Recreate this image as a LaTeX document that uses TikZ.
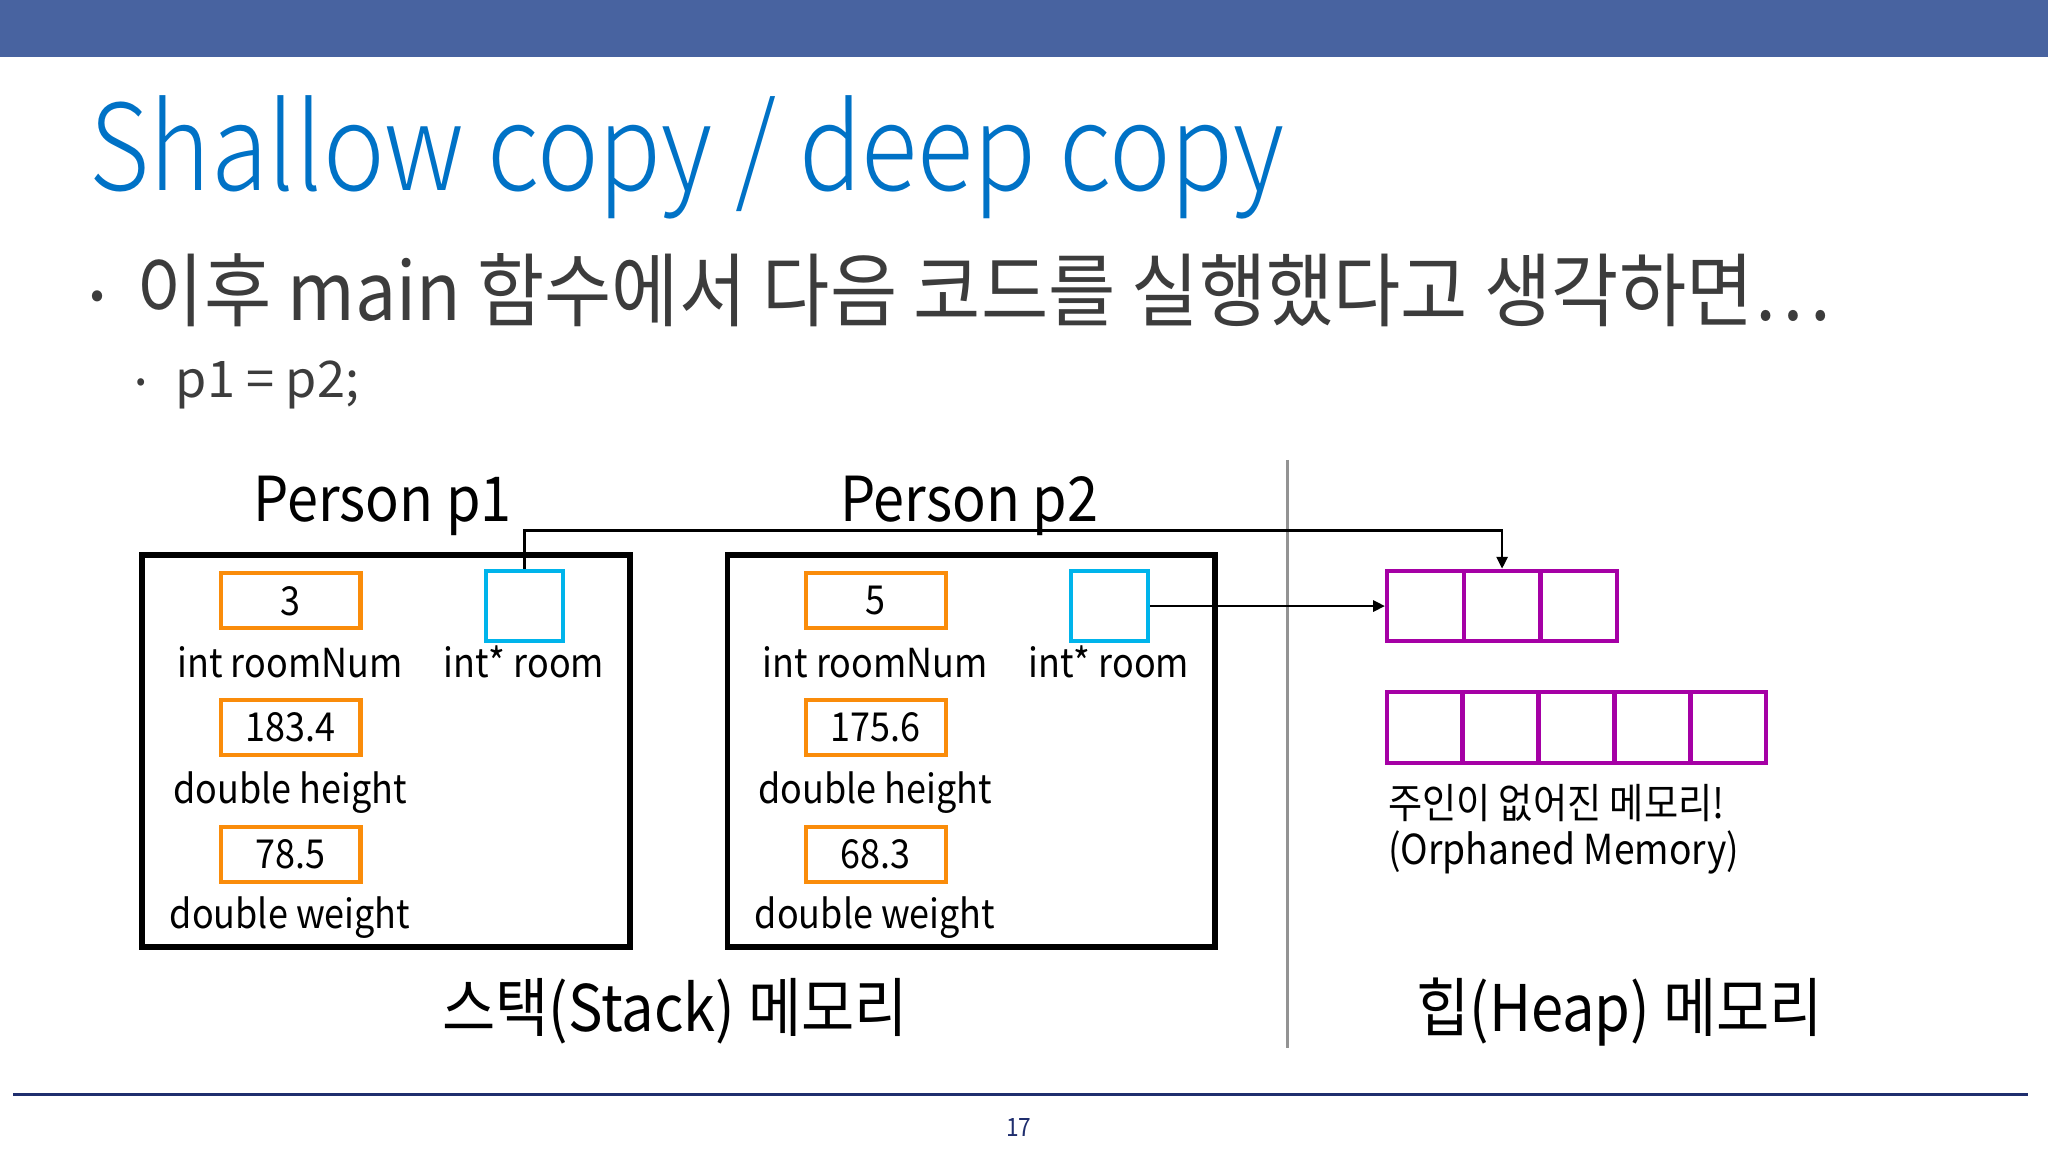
\documentclass[tikz,border=0pt]{standalone}
\usepackage{fontspec}
\setmainfont{Noto Sans CJK KR}[FakeStretch=0.9]
\newfontfamily\titlefont{Noto Sans CJK KR Light}[FakeStretch=0.87]
\newfontfamily\bodyfont{Noto Sans CJK KR}[FakeStretch=0.91]
\newfontfamily\plainfont{Noto Sans CJK KR}
\usetikzlibrary{arrows.meta,calc}
\definecolor{barblue}{RGB}{72,99,160}
\definecolor{titleblue}{RGB}{0,114,198}
\definecolor{txtgray}{RGB}{60,60,60}
\definecolor{orng}{RGB}{250,140,10}
\definecolor{cyn}{RGB}{0,180,235}
\definecolor{mgnt}{RGB}{165,0,165}
\definecolor{navy}{RGB}{31,46,110}
\tikzset{
  obox/.style={draw=orng, line width=0.9pt, minimum width=10.7mm, minimum height=4.2mm, inner sep=0pt, font=\fontsize{8.7pt}{10pt}\selectfont},
  cbox/.style={draw=cyn, line width=0.9pt, minimum width=5.9mm, minimum height=5.4mm, inner sep=0pt},
  hcell/.style={draw=mgnt, line width=0.9pt, minimum width=5.87mm, minimum height=5.4mm, inner sep=0pt},
  frame/.style={draw=black, line width=1.3pt},
  lbl/.style={anchor=base, inner sep=0pt, font=\fontsize{8.7pt}{10pt}\selectfont},
  arr/.style={line width=0.6pt, -{Triangle[length=2.6pt,width=2.4pt]}},
}
\begin{document}
\begin{tikzpicture}[x=0.1mm,y=-0.1mm]
\useasboundingbox (0,0) rectangle (1568,882);
\fill[white] (0,0) rectangle (1568,882);
% top bar
\fill[barblue] (0,0) rectangle (1568,44);
% title
\node[anchor=base west, inner sep=0pt, text=titleblue, font=\titlefont\fontsize{26pt}{30pt}\selectfont] (title) at (68,146) {Shallow copy / deep copy};
% bullets
\node[anchor=base, inner sep=0pt, text=txtgray, font=\plainfont\fontsize{9pt}{10pt}\selectfont] (b1dot) at (75,236) {•};
\node[anchor=base west, inner sep=0pt, text=txtgray, font=\bodyfont\fontsize{17.5pt}{20pt}\selectfont] (b1) at (104,245) {이후 main 함수에서 다음 코드를 실행했다고 생각하면…};
\node[anchor=base, inner sep=0pt, text=txtgray, font=\plainfont\fontsize{6pt}{7pt}\selectfont] (b2dot) at (108,299) {•};
\node[anchor=base west, inner sep=0pt, text=txtgray, font=\plainfont\fontsize{11pt}{13pt}\selectfont] (b2) at (134,304) {p1 = p2;};
% person titles
\node[lbl, font=\fontsize{13.5pt}{16pt}\selectfont] (pt1) at (293,399) {Person p1};
\node[lbl, font=\fontsize{13.5pt}{16pt}\selectfont] (pt2) at (742,399) {Person p2};
% frames
\draw[frame] (109,425) rectangle (482,725);
\draw[frame] (557,425) rectangle (930,725);
% p1 fields
\node[obox] (v11) at (222.5,460) {3};
\node[obox] (v12) at (222.5,557) {183.4};
\node[obox] (v13) at (222.5,654) {78.5};
\node[cbox] (c1) at (401.5,464) {};
\node[lbl] (l11) at (222,519) {int roomNum};
\node[lbl] (l12) at (222,615) {double height};
\node[lbl] (l13) at (222,711) {double weight};
\node[lbl] (l14) at (401,519) {int* room};
% p2 fields
\node[obox] (v21) at (670.5,460) {5};
\node[obox] (v22) at (670.5,557) {175.6};
\node[obox] (v23) at (670.5,654) {68.3};
\node[cbox] (c2) at (849.5,464) {};
\node[lbl] (l21) at (670,519) {int roomNum};
\node[lbl] (l22) at (670,615) {double height};
\node[lbl] (l23) at (670,711) {double weight};
\node[lbl] (l24) at (849,519) {int* room};
% divider
\draw[gray!85, line width=0.6pt] (986,352) -- (986,802);
% heap arrays
\foreach \i in {0,1,2} {\node[hcell] (ha\i) at ({1062+29.35+58.7*\i},464) {};}
\foreach \i in {0,...,4} {\node[hcell] (hb\i) at ({1062+29+58*\i},557) {};}
% arrows
\draw[arr] (c1.north) -- ++(0,-29) -| (ha1.north);
\draw[arr] (c2.east) -- (ha0.west);
% orphan label
\node[anchor=base west, inner sep=0pt, font=\fontsize{9pt}{10pt}\selectfont] (or1) at (1062,627) {주인이 없어진 메모리!};
\node[anchor=base west, inner sep=0pt, font=\fontsize{9pt}{10pt}\selectfont] (or2) at (1062,662) {(Orphaned Memory)};
% memory labels
\node[lbl, font=\fontsize{14pt}{16pt}\selectfont] (stk) at (517,790) {스택(Stack) 메모리};
\node[lbl, font=\fontsize{14pt}{16pt}\selectfont] (hp) at (1240,790) {힙(Heap) 메모리};
% bottom line
\draw[navy, line width=0.6pt] (10,838) -- (1553,838);
\node[anchor=base, inner sep=0pt, text=navy, font=\fontsize{5.5pt}{7pt}\selectfont] (pg) at (780,870) {17};
\end{tikzpicture}
\end{document}
